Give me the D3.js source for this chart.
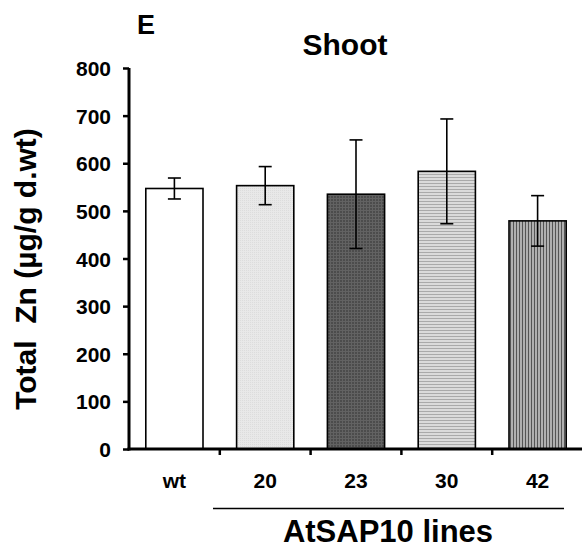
<!DOCTYPE html>
<html>
<head>
<meta charset="utf-8">
<script src="https://cdn.jsdelivr.net/npm/d3@7"></script>
<style>
  body { margin: 0; background: #fff; }
  text { font-family: "Liberation Sans", Arial, sans-serif; font-weight: bold; fill: #000; }
</style>
</head>
<body>
<div id="chart"></div>
<script>
// data
const lines = ["wt", "20", "23", "30", "42"]
const zinc = [547, 553, 535, 583, 479]
const zincErr = [22, 40, 114, 110, 53]
const yTicks = [0, 100, 200, 300, 400, 500, 600, 700, 800]
const fills = ["#ffffff", "url(#p20)", "url(#p23)", "url(#p30)", "url(#p42)"]

const W = 582, H = 548
const svg = d3.select("#chart").append("svg")
  .attr("width", W).attr("height", H)

// hatch patterns for the bars
const defs = svg.append("defs")
const p20 = defs.append("pattern").attr("id", "p20")
  .attr("patternUnits", "userSpaceOnUse").attr("width", 2).attr("height", 2)
p20.append("rect").attr("width", 2).attr("height", 2).attr("fill", "#e8e8e8")
p20.append("rect").attr("width", 1).attr("height", 1).attr("fill", "#dcdcdc")

const p23 = defs.append("pattern").attr("id", "p23")
  .attr("patternUnits", "userSpaceOnUse").attr("width", 3).attr("height", 3)
p23.append("rect").attr("width", 3).attr("height", 3).attr("fill", "#4c4c4c")
p23.append("rect").attr("width", 3).attr("height", 1).attr("fill", "#626262")
p23.append("rect").attr("width", 1).attr("height", 3).attr("fill", "#626262")

const p30 = defs.append("pattern").attr("id", "p30")
  .attr("patternUnits", "userSpaceOnUse").attr("width", 3).attr("height", 3)
p30.append("rect").attr("width", 3).attr("height", 3).attr("fill", "#dadada")
p30.append("rect").attr("width", 3).attr("height", 1).attr("fill", "#a9a9a9")

const p42 = defs.append("pattern").attr("id", "p42")
  .attr("patternUnits", "userSpaceOnUse").attr("width", 3).attr("height", 3)
p42.append("rect").attr("width", 3).attr("height", 3).attr("fill", "#b0b0b0")
p42.append("rect").attr("width", 1).attr("height", 3).attr("fill", "#555")

// scales
const x = d3.scaleBand()
  .domain(lines)
  .range([129, 583])
  .paddingInner(0.37)
  .paddingOuter(0.185)

const y = d3.scaleLinear()
  .domain([0, 800])
  .range([449, 68])

// bars
svg.selectAll(".bar")
  .data(lines)
  .join("rect")
    .attr("class", "bar")
    .attr("x", d => x(d))
    .attr("width", x.bandwidth())
    .attr("y", (d, i) => y(zinc[i]))
    .attr("height", (d, i) => y(0) - y(zinc[i]))
    .attr("fill", (d, i) => fills[i])
    .attr("stroke", "#000")
    .attr("stroke-width", 1.6)

// error bars
const eb = svg.selectAll(".err")
  .data(lines)
  .join("g")
    .attr("class", "err")
    .attr("stroke", "#000")
    .attr("stroke-width", 1.6)
eb.append("line")
  .attr("x1", d => x(d) + x.bandwidth() / 2)
  .attr("x2", d => x(d) + x.bandwidth() / 2)
  .attr("y1", (d, i) => y(zinc[i] - zincErr[i]))
  .attr("y2", (d, i) => y(zinc[i] + zincErr[i]))
eb.append("line")
  .attr("x1", d => x(d) + x.bandwidth() / 2 - 6.5)
  .attr("x2", d => x(d) + x.bandwidth() / 2 + 6.5)
  .attr("y1", (d, i) => y(zinc[i] + zincErr[i]))
  .attr("y2", (d, i) => y(zinc[i] + zincErr[i]))
eb.append("line")
  .attr("x1", d => x(d) + x.bandwidth() / 2 - 6.5)
  .attr("x2", d => x(d) + x.bandwidth() / 2 + 6.5)
  .attr("y1", (d, i) => y(zinc[i] - zincErr[i]))
  .attr("y2", (d, i) => y(zinc[i] - zincErr[i]))

// y axis
const yAxis = svg.append("g")
  .attr("transform", "translate(129,0)")
  .call(d3.axisLeft(y).tickValues(yTicks).tickSize(6).tickPadding(12).tickFormat(d3.format("d")))
yAxis.select(".domain").attr("d", `M0,${y(800)}V${y(0) + 1.5}`).attr("stroke-width", 3)
yAxis.selectAll(".tick line").attr("stroke-width", 2.5)
yAxis.selectAll(".tick text").style("font-size", "21px").attr("dy", "0.36em")

// x axis: ticks sit between the groups
const step = x.step()
const bounds = lines.slice(1).map(d => x(d) - (step - x.bandwidth()) / 2)
svg.append("line")
  .attr("x1", 127.5).attr("x2", 583)
  .attr("y1", y(0)).attr("y2", y(0))
  .attr("stroke", "#000").attr("stroke-width", 3)
svg.selectAll(".xtick")
  .data(bounds)
  .join("line")
    .attr("class", "xtick")
    .attr("x1", d => d).attr("x2", d => d)
    .attr("y1", y(0)).attr("y2", y(0) + 6)
    .attr("stroke", "#000").attr("stroke-width", 2.5)

svg.selectAll(".xlab")
  .data(lines)
  .join("text")
    .attr("class", "xlab")
    .attr("x", d => x(d) + x.bandwidth() / 2)
    .attr("y", 488)
    .attr("text-anchor", "middle")
    .style("font-size", "21px")
    .text(d => d)

// bracket under the transgenic lines
svg.append("line")
  .attr("x1", 213).attr("x2", 564)
  .attr("y1", 508.5).attr("y2", 508.5)
  .attr("stroke", "#000").attr("stroke-width", 1.3)
svg.append("text")
  .attr("x", 388).attr("y", 542)
  .attr("text-anchor", "middle")
  .style("font-size", "31px")
  .text("AtSAP10 lines")

// titles
svg.append("text")
  .attr("x", 137).attr("y", 34)
  .style("font-size", "27px")
  .text("E")
svg.append("text")
  .attr("x", 345).attr("y", 55)
  .attr("text-anchor", "middle")
  .style("font-size", "30px")
  .text("Shoot")

svg.append("text")
  .attr("transform", "translate(36,269) rotate(-90)")
  .attr("text-anchor", "middle")
  .style("font-size", "30px")
  .attr("xml:space", "preserve")
  .text("Total  Zn (µg/g d.wt)")
</script>
</body>
</html>
